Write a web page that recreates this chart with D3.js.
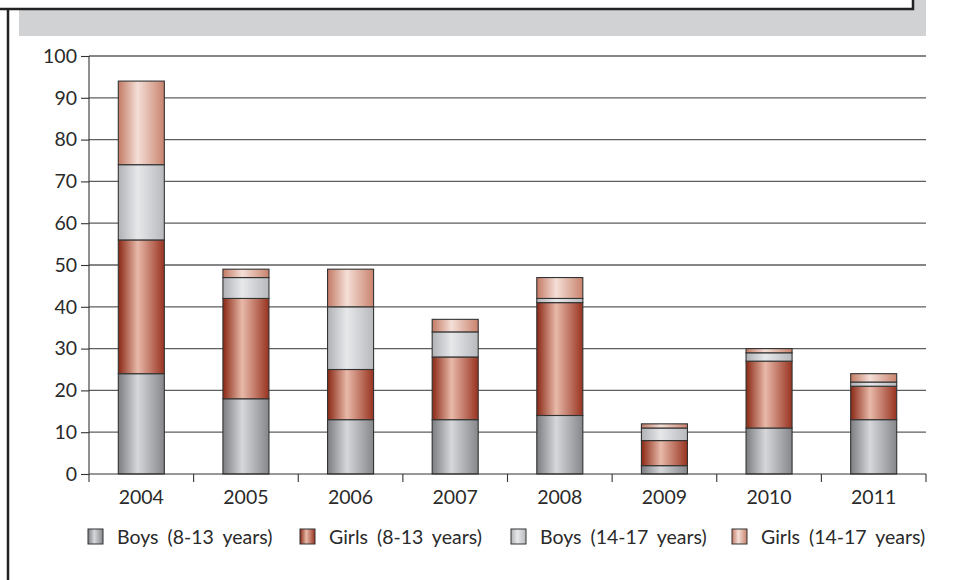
<!DOCTYPE html>
<html>
<head>
<meta charset="utf-8">
<script src="https://cdn.jsdelivr.net/npm/d3@7"></script>
<style>
  html, body { margin: 0; padding: 0; background: #fff; }
  svg { display: block; font-family: Lato, "Open Sans", sans-serif; }
</style>
</head>
<body>
<svg id="chart" width="953" height="580"></svg>
<script>
// Yearly counts, stacked by group
const years = ["2004", "2005", "2006", "2007", "2008", "2009", "2010", "2011"];
const boysYoung  = [24, 18, 13, 13, 14, 2, 11, 13];
const girlsYoung = [32, 24, 12, 15, 27, 6, 16, 8];
const boysTeen   = [18, 5, 15, 6, 1, 3, 2, 1];
const girlsTeen  = [20, 2, 9, 3, 5, 1, 1, 2];
const seriesNames = ["Boys (8-13 years)", "Girls (8-13 years)", "Boys (14-17 years)", "Girls (14-17 years)"];
const yTicks = [0, 10, 20, 30, 40, 50, 60, 70, 80, 90, 100];

// edge / centre colours for the cylinder-like shading of each series
const shades = [
  { edge: "#7c7d81", mid: "#d6d7da", edge2: "#86878b" },
  { edge: "#8a2814", mid: "#e8b9a9", edge2: "#983320" },
  { edge: "#b0b1b5", mid: "#e7e8ea", edge2: "#b8b9bd" },
  { edge: "#c37a64", mid: "#f4dfd7", edge2: "#c9836d" }
];

const rows = years.map((yr, i) => ({
  year: yr,
  s0: boysYoung[i], s1: girlsYoung[i], s2: boysTeen[i], s3: girlsTeen[i]
}));
const keys = ["s0", "s1", "s2", "s3"];

const svg = d3.select("#chart");
const defs = svg.append("defs");

shades.forEach((c, i) => {
  const g = defs.append("linearGradient")
    .attr("id", "grad" + i)
    .attr("x1", "0%").attr("x2", "100%").attr("y1", "0%").attr("y2", "0%");
  g.append("stop").attr("offset", "0%").attr("stop-color", c.edge);
  g.append("stop").attr("offset", "42%").attr("stop-color", c.mid);
  g.append("stop").attr("offset", "100%").attr("stop-color", c.edge2);
});

// page frame: grey band, boxed header and left rule
svg.append("rect").attr("x", 19).attr("y", 0).attr("width", 907).attr("height", 36).attr("fill", "#d1d2d4");
svg.append("rect").attr("x", 0).attr("y", 0).attr("width", 912).attr("height", 8).attr("fill", "#fff");
svg.append("path")
  .attr("d", "M8,9 L8,580 M0,9 L913,9 L913,-5")
  .attr("fill", "none").attr("stroke", "#222").attr("stroke-width", 2.5);

const plotL = 89, plotR = 926, plotT = 56, plotB = 474;

const x = d3.scaleBand().domain(years).range([plotL, plotR]).paddingInner(0).paddingOuter(0);
const y = d3.scaleLinear().domain([0, 100]).range([plotB, plotT]);

// horizontal gridlines
svg.append("g")
  .selectAll("line")
  .data(yTicks.filter(t => t > 0))
  .join("line")
  .attr("x1", plotL).attr("x2", plotR)
  .attr("y1", d => y(d)).attr("y2", d => y(d))
  .attr("stroke", "#5e5e5e").attr("stroke-width", 1.3);

// stacked bars
const stacked = d3.stack().keys(keys)(rows);
const barW = x.bandwidth() * 0.44;

svg.append("g")
  .selectAll("g")
  .data(stacked)
  .join("g")
  .attr("fill", (d, i) => `url(#grad${i})`)
  .selectAll("rect")
  .data(d => d)
  .join("rect")
  .attr("x", d => x(d.data.year) + (x.bandwidth() - barW) / 2)
  .attr("width", barW)
  .attr("y", d => y(d[1]))
  .attr("height", d => y(d[0]) - y(d[1]))
  .attr("stroke", "#333")
  .attr("stroke-width", 1.1);

// y axis
const yAxis = d3.axisLeft(y).tickValues(yTicks).tickSize(8).tickPadding(4);
const gy = svg.append("g").attr("transform", `translate(${plotL},0)`).call(yAxis);
gy.select(".domain").remove();
gy.selectAll(".tick line").attr("stroke", "#333").attr("stroke-width", 1.1);
gy.selectAll(".tick text").attr("font-size", 19.5).attr("fill", "#2a2a2a").attr("font-family", "Lato, sans-serif");
svg.append("line").attr("x1", plotL).attr("x2", plotL).attr("y1", plotT).attr("y2", plotB + 8)
  .attr("stroke", "#333").attr("stroke-width", 1.1);

// x axis with ticks at category boundaries
svg.append("line").attr("x1", plotL).attr("x2", plotR).attr("y1", plotB).attr("y2", plotB)
  .attr("stroke", "#333").attr("stroke-width", 1.1);
svg.append("g")
  .selectAll("line")
  .data(years.slice(1).map(yr => x(yr)).concat([plotR]))
  .join("line")
  .attr("x1", d => d).attr("x2", d => d)
  .attr("y1", plotB).attr("y2", plotB + 8)
  .attr("stroke", "#333").attr("stroke-width", 1.1);
svg.append("g")
  .selectAll("text")
  .data(years)
  .join("text")
  .attr("x", d => x(d) + x.bandwidth() / 2)
  .attr("y", plotB + 30)
  .attr("text-anchor", "middle")
  .attr("font-size", 19.5)
  .attr("fill", "#2a2a2a")
  .text(d => d);

// legend
const legendX = [88, 300, 511, 732];
const lg = svg.append("g");
seriesNames.forEach((name, i) => {
  lg.append("rect")
    .attr("x", legendX[i]).attr("y", 529)
    .attr("width", 15).attr("height", 15)
    .attr("fill", `url(#grad${i})`)
    .attr("stroke", "#333").attr("stroke-width", 1);
  lg.append("text")
    .attr("x", legendX[i] + 29)
    .attr("y", 544)
    .attr("font-size", 19.5)
    .attr("fill", "#2a2a2a")
    .attr("word-spacing", 4)
    .text(name);
});
</script>
</body>
</html>
